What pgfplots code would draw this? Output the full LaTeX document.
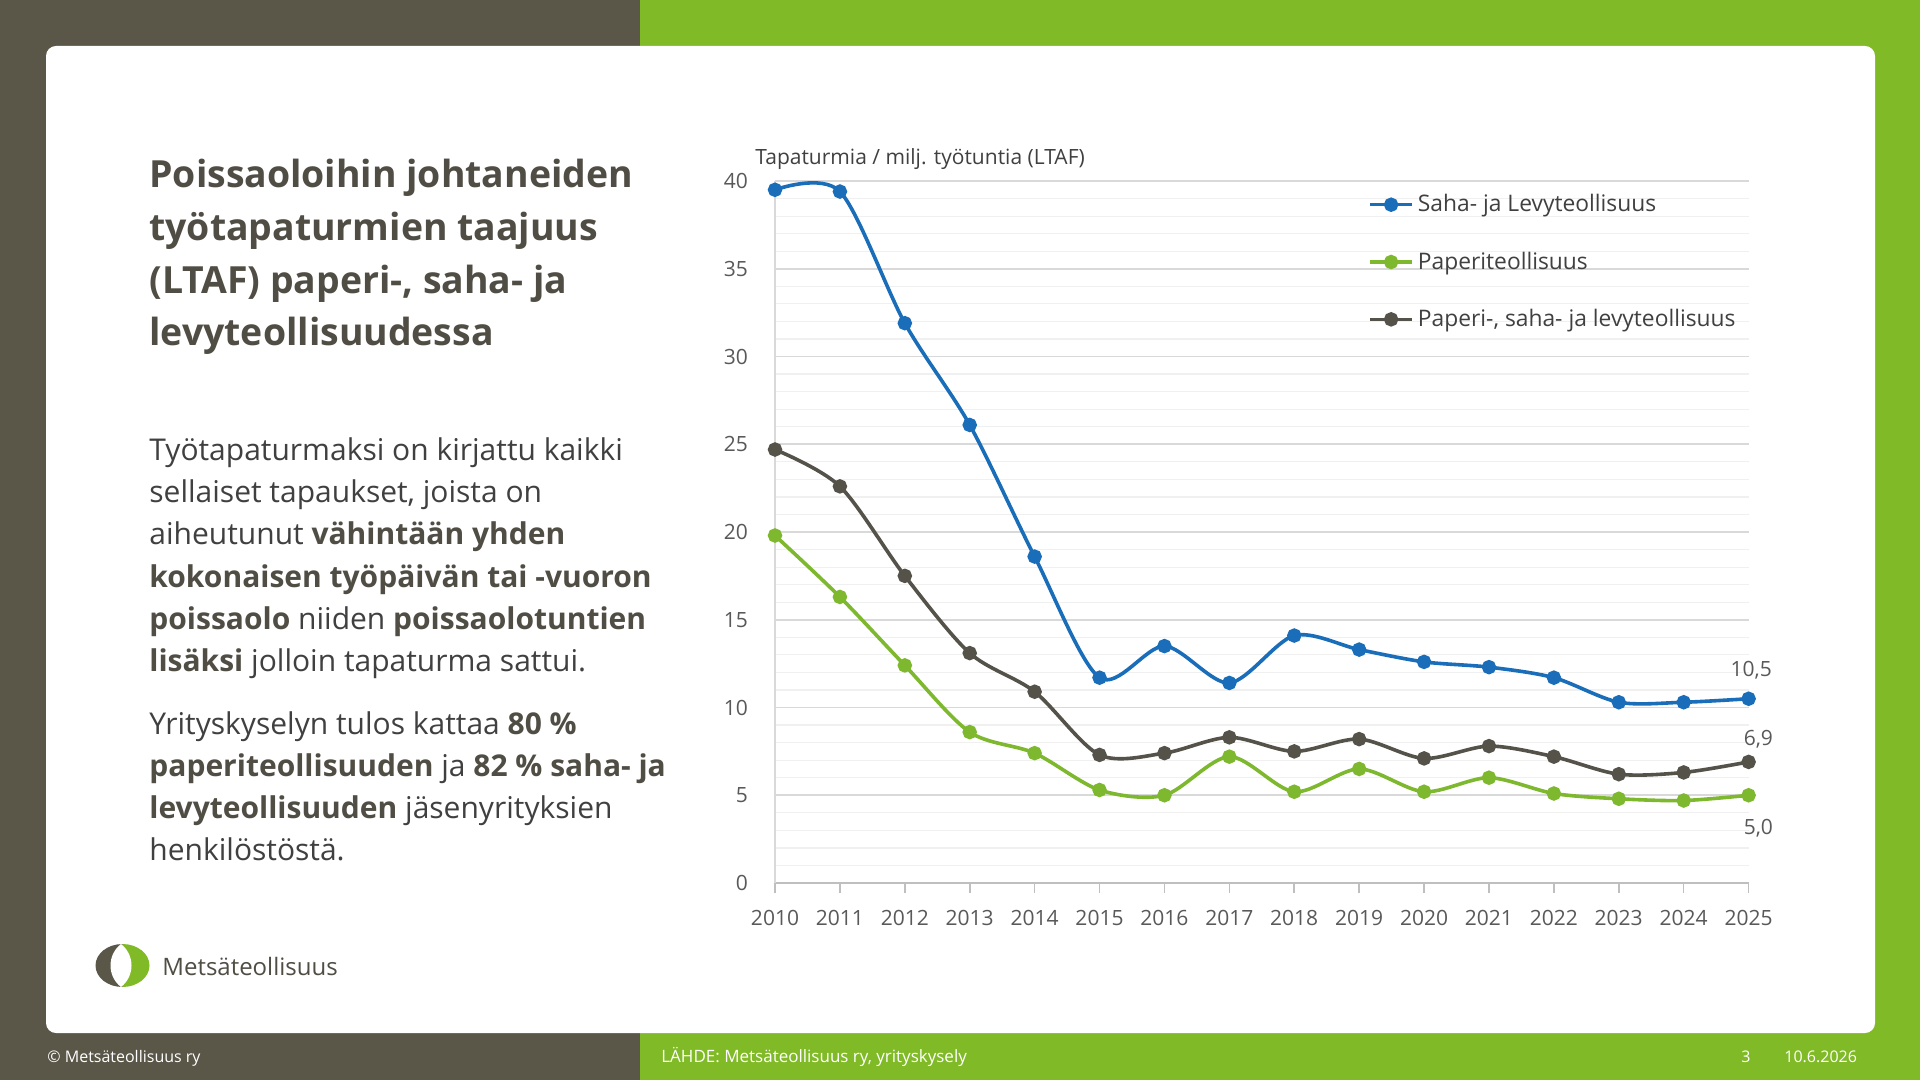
\documentclass[border=0pt]{standalone}
\usepackage{pgfplots}
\pgfplotsset{compat=1.18}
\usepackage{fontspec}
\setmainfont{Open Sans}
\definecolor{mdark}{HTML}{5A5749}
\definecolor{mgreen}{HTML}{80BA27}
\definecolor{lblue}{HTML}{1A6DB8}
\definecolor{lgreen}{HTML}{7DB82F}
\definecolor{ldark}{HTML}{55524A}
\definecolor{titlec}{HTML}{504D44}
\definecolor{bodyc}{HTML}{404040}
\definecolor{tickc}{HTML}{595959}
\definecolor{gridmaj}{HTML}{D9D9D9}
\definecolor{gridmin}{HTML}{F0F0F0}
\definecolor{axisx}{HTML}{BFBFBF}
\newcommand\B[1]{\textbf{\color{titlec}#1}}

\pgfplotstableread{
year saha paperi yht
2010 39.5 19.8 24.7
2011 39.4 16.3 22.6
2012 31.9 12.4 17.5
2013 26.1 8.6 13.1
2014 18.6 7.4 10.9
2015 11.7 5.3 7.3
2016 13.5 5.0 7.4
2017 11.4 7.2 8.3
2018 14.1 5.2 7.5
2019 13.3 6.5 8.2
2020 12.6 5.2 7.1
2021 12.3 6.0 7.8
2022 11.7 5.1 7.2
2023 10.3 4.8 6.2
2024 10.3 4.7 6.3
2025 10.5 5.0 6.9
}\ltaf

\begin{document}
\begin{tikzpicture}
\begin{scope}[x=0.5pt,y=-0.5pt]
\useasboundingbox (0,0) rectangle (1920,1080);
\fill[mdark] (0,0) rectangle (640,1080);
\fill[mgreen] (640,0) rectangle (1920,1080);
\fill[white, rounded corners=5pt] (46,46) rectangle (1875,1033);
% title
\begin{scope}[every node/.style={anchor=base west, inner sep=0pt, font=\fontsize{18.7}{22}\selectfont\bfseries, text=titlec}]
\node at (149,188) {Poissaoloihin johtaneiden};
\node at (149,241) {työtapaturmien taajuus};
\node at (149,294) {(LTAF) paperi-, saha- ja};
\node at (149,346) {levyteollisuudessa};
\end{scope}
% body
\begin{scope}[every node/.style={anchor=base west, inner sep=0pt, font=\fontsize{15}{18}\selectfont, text=bodyc}]
\node at (149,460) {Työtapaturmaksi on kirjattu kaikki};
\node at (149,502) {sellaiset tapaukset, joista on};
\node at (149,544) {aiheutunut \B{vähintään yhden}};
\node at (149,587) {\B{kokonaisen työpäivän tai -vuoron}};
\node at (149,629) {\B{poissaolo} niiden \B{poissaolotuntien}};
\node at (149,671) {\B{lisäksi} jolloin tapaturma sattui.};
\node at (149,734) {Yrityskyselyn tulos kattaa \B{80 \%}};
\node at (149,776) {\B{paperiteollisuuden} ja \B{82 \% saha- ja}};
\node at (149,818) {\B{levyteollisuuden} jäsenyrityksien};
\node at (149,860) {henkilöstöstä.};
\end{scope}
% logo
\begin{scope}
\clip (90,930) rectangle (122.5,1000);
\fill[mdark] (122.5,965.5) ellipse [x radius=27, y radius=21.5];
\end{scope}
\begin{scope}
\clip (122.5,930) rectangle (160,1000);
\fill[mgreen] (122.5,965.5) ellipse [x radius=27, y radius=21.5];
\end{scope}
\fill[white] (121,944) .. controls (107,955) and (107,976) .. (121,987) .. controls (135,976) and (135,955) .. (121,944) -- cycle;
\node[anchor=base west, inner sep=0pt, font=\fontsize{12}{14}\selectfont, text=titlec] at (162,975) {Metsäteollisuus};
% axis title
\node[anchor=base west, inner sep=0pt, font=\fontsize{10.5}{12}\selectfont, text=bodyc] at (755,165) {Tapaturmia / milj. työtuntia (LTAF)};
% footer
\begin{scope}[every node/.style={anchor=base west, inner sep=0pt, font=\fontsize{8}{10}\selectfont, text=white}]
\node at (47,1062) {© Metsäteollisuus ry};
\node[font=\fontsize{8.5}{10}\selectfont] at (661,1062) {LÄHDE: Metsäteollisuus ry, yrityskysely};
\node at (1741,1062) {3};
\node at (1784,1062) {10.6.2026};
\end{scope}
\end{scope}

\begin{axis}[
  at={(387.5pt,-441.5pt)}, anchor=south west,
  scale only axis, width=486.8pt, height=351pt,
  xmin=2010, xmax=2025, ymin=0, ymax=40,
  xtick={2010,...,2025}, ytick={0,5,...,40},
  minor y tick num=4,
  ymajorgrids, yminorgrids,
  major grid style={draw=gridmaj, line width=0.8pt},
  minor grid style={draw=gridmin, line width=0.6pt},
  axis lines*=left,
  x axis line style={draw=axisx, line width=0.8pt},
  y axis line style={draw=gridmaj, line width=0.8pt},
  xtick style={draw=axisx, line width=0.8pt},
  ytick style={draw=none},
  minor y tick style={draw=none},
  tick align=outside, major tick length=5pt,
  tick label style={font=\fontsize{10.5}{12}\selectfont, text=tickc},
  /pgf/number format/assume math mode=true,
  /pgf/number format/1000 sep={},
  xticklabel style={yshift=-5pt},
  yticklabel style={xshift=-5pt},
  legend style={at={(0.609,0.987)}, anchor=north west, draw=none, fill=none,
    font=\fontsize{11.4}{13}\selectfont, text=bodyc, row sep=14.5pt, inner sep=0pt,
    /tikz/every even column/.append style={column sep=1pt}},
  legend cell align=left,
  legend image code/.code={\draw[mark repeat=2,mark phase=2,#1] plot coordinates {(0pt,0pt) (10.5pt,0pt) (21pt,0pt)};},
  every axis plot/.append style={line width=1.8pt, mark=*, mark size=2.7pt},
  clip=false,
]
\addplot[lblue, smooth, mark options={fill=lblue, draw=lblue}] table[x=year, y=saha] {\ltaf};
\addlegendentry{Saha- ja Levyteollisuus}
\addplot[lgreen, smooth, mark options={fill=lgreen, draw=lgreen}] table[x=year, y=paperi] {\ltaf};
\addlegendentry{Paperiteollisuus}
\addplot[ldark, smooth, mark options={fill=ldark, draw=ldark}] table[x=year, y=yht] {\ltaf};
\addlegendentry{Paperi-, saha- ja levyteollisuus}
\node[font=\fontsize{10.5}{12}\selectfont, text=tickc] at (axis cs:2025.04,12.1) {10,5};
\node[font=\fontsize{10.5}{12}\selectfont, text=tickc] at (axis cs:2025.15,8.17) {6,9};
\node[font=\fontsize{10.5}{12}\selectfont, text=tickc] at (axis cs:2025.15,3.14) {5,0};
\end{axis}
\end{tikzpicture}
\end{document}
